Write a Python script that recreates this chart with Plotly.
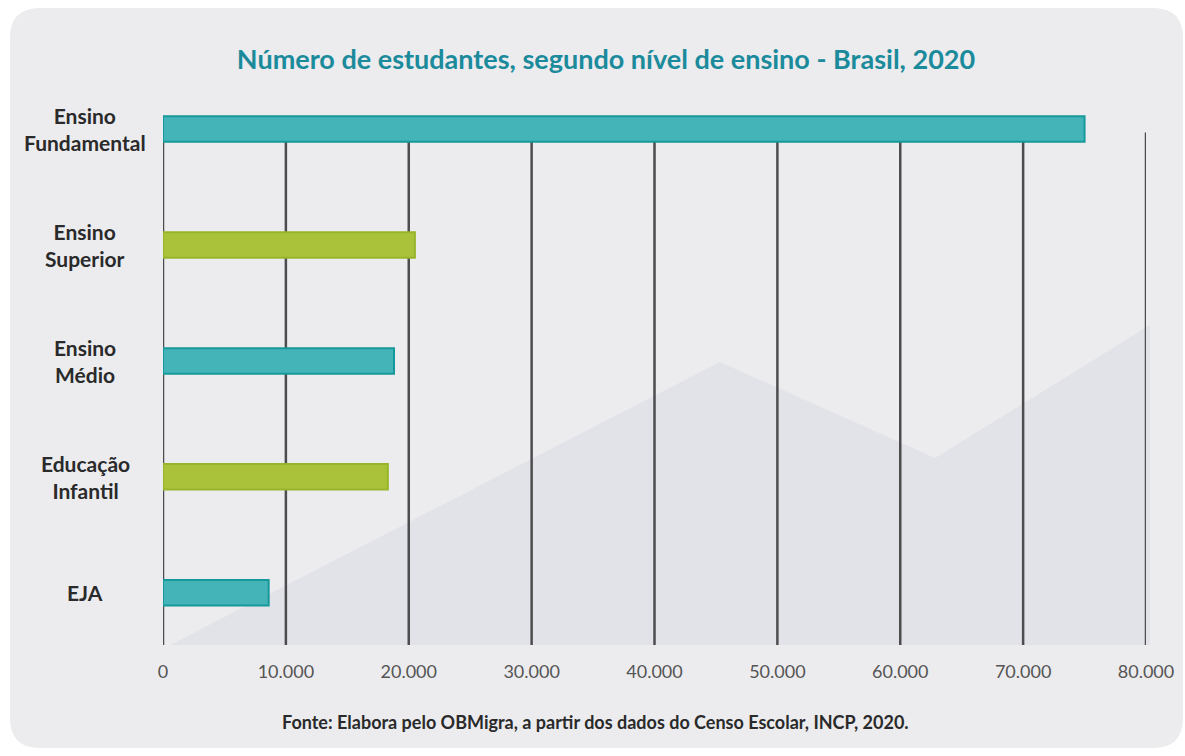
import plotly.graph_objects as go

categories = ["EJA", "Educação Infantil", "Ensino Médio", "Ensino Superior", "Ensino Fundamental"]
labels = ["EJA", "Educação<br>Infantil", "Ensino<br>Médio", "Ensino<br>Superior", "Ensino<br>Fundamental"]
values = [8600, 18300, 18800, 20500, 75000]
bar_colors = ["#45b4b8", "#a9c23a", "#45b4b8", "#a9c23a", "#45b4b8"]
edge_colors = ["#15999b", "#97b52a", "#15999b", "#97b52a", "#15999b"]
tick_vals = [0, 10000, 20000, 30000, 40000, 50000, 60000, 70000, 80000]
tick_text = ["0", "10.000", "20.000", "30.000", "40.000", "50.000", "60.000", "70.000", "80.000"]

W, H = 1185, 756
L, R, T, B = 163, 39, 71, 111
pw, ph = W - L - R, H - T - B

def px(x):
    return (x - L) / pw

def py(y):
    return (H - B - y) / ph

fig = go.Figure()
fig.add_trace(go.Bar(
    y=categories, x=values, orientation="h",
    marker=dict(color=bar_colors, line=dict(color=edge_colors, width=2)),
    width=0.22, hoverinfo="x+y",
))

shapes = []
# rounded background
x0, x1, y0, y1 = px(10), px(1183), py(748), py(8)
rx, ry = 30 / pw, 30 / ph
path = (f"M {x0+rx},{y1} L {x1-rx},{y1} Q {x1},{y1} {x1},{y1-ry} "
        f"L {x1},{y0+ry} Q {x1},{y0} {x1-rx},{y0} L {x0+rx},{y0} "
        f"Q {x0},{y0} {x0},{y0+ry} L {x0},{y1-ry} Q {x0},{y1} {x0+rx},{y1} Z")
shapes.append(dict(type="path", path=path, xref="paper", yref="paper",
                   fillcolor="#ececef", line=dict(width=0), layer="below"))
# decorative mountain
mpts = [(170, 645), (720, 362), (935, 458), (1150, 325), (1150, 645)]
mpath = "M " + " L ".join(f"{px(a)},{py(b)}" for a, b in mpts) + " Z"
shapes.append(dict(type="path", path=mpath, xref="paper", yref="paper",
                   fillcolor="#e2e3e9", line=dict(width=0), layer="below"))
# vertical grid lines
for v in tick_vals:
    shapes.append(dict(type="line", xref="x", yref="y", x0=v, x1=v, y0=-0.45, y1=3.97,
                       line=dict(color="#4d4d4f", width=2.5), layer="below"))

annotations = []
for c, lab in zip(categories, labels):
    annotations.append(dict(x=px(85), xref="paper", y=c, yref="y", text=lab,
                            showarrow=False, xanchor="center", yanchor="middle", align="center",
                            font=dict(family="Lato", size=21, color="#2a2a2a", weight="bold")))
annotations.append(dict(x=px(595), xref="paper", y=py(722), yref="paper",
                        text="Fonte: Elabora pelo OBMigra, a partir dos dados do Censo Escolar, INCP, 2020.",
                        showarrow=False, xanchor="center", yanchor="middle",
                        font=dict(family="Lato", size=18, color="#2a2a2a", weight="bold")))

fig.update_layout(
    width=W, height=H,
    margin=dict(l=L, r=R, t=T, b=B, pad=0),
    paper_bgcolor="white", plot_bgcolor="rgba(0,0,0,0)",
    showlegend=False,
    title=dict(text="Número de estudantes, segundo nível de ensino - Brasil, 2020",
               x=606 / W, xanchor="center", y=1 - 60 / H, yanchor="middle",
               font=dict(family="Lato", size=27, color="#1b8b9c", weight="bold")),
    shapes=shapes, annotations=annotations,
    bargap=0.5,
)
fig.update_xaxes(range=[0, 80000], tickvals=tick_vals, ticktext=tick_text, showgrid=False,
                 zeroline=False, showline=False, ticks="", ticklabelstandoff=14,
                 tickfont=dict(family="Lato", size=18, color="#555555"))
fig.update_yaxes(type="category", categoryorder="array", categoryarray=categories,
                 range=[-0.45, 4.5], showgrid=False, zeroline=False, showline=False,
                 showticklabels=False, ticks="")

fig.write_html("out.html", config={"displayModeBar": False},
               post_script="document.body.style.margin='0';document.body.style.overflow='hidden';")
